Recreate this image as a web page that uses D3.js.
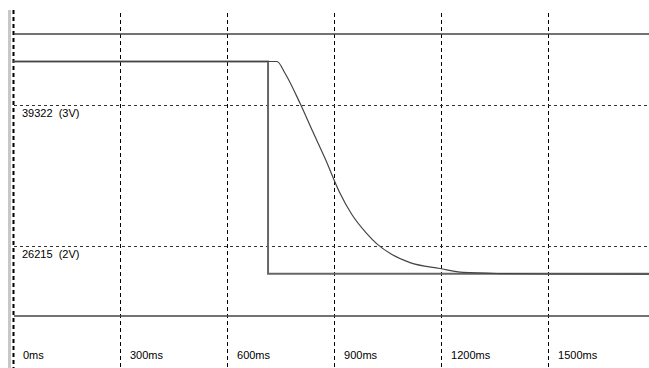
<!DOCTYPE html>
<html>
<head>
<meta charset="utf-8">
<script src="https://cdn.jsdelivr.net/npm/d3@7"></script>
<style>
  body { margin: 0; background: #fff; }
  svg { display: block; }
  text { font-family: "Liberation Sans", Arial, sans-serif; font-size: 11px; fill: #000; white-space: pre; }
</style>
</head>
<body>
<div id="chart"></div>
<script>
// time ticks (ms) and voltage reference lines
const timeTicks = [0, 300, 600, 900, 1200, 1500];
const refLevels = [2, 3];
const refLabels = ["26215  (2V)", "39322  (3V)"];
const limitLevels = [1.5, 3.5];

// step signal (time ms, volts)
const stepTime = [0, 715, 715, 1783];
const stepVolt = [3.305, 3.305, 1.80, 1.80];

// response curve (time ms, volts)
const curveTime = [0, 740, 763, 805, 840, 875, 915, 950, 990, 1021, 1060, 1113, 1197, 1262, 1365, 1500, 1783];
const curveVolt = [3.305, 3.305, 3.22, 3.007, 2.81, 2.617, 2.38, 2.22, 2.09, 2.01, 1.94, 1.879, 1.837, 1.809, 1.801, 1.798, 1.796];

const W = 649, H = 368;
const svg = d3.select("#chart").append("svg")
    .attr("width", W)
    .attr("height", H);

const x = d3.scaleLinear().domain([0, 1783]).range([13, 649]);
const y = d3.scaleLinear().domain([1.5, 3.5]).range([316, 34]);

// left gray edge
svg.append("rect")
    .attr("x", 8).attr("y", 10)
    .attr("width", 3).attr("height", H - 10)
    .attr("fill", "#c8c8c8");

// vertical dashed grid
svg.selectAll(".vgrid")
    .data(timeTicks)
    .enter().append("line")
    .attr("class", "vgrid")
    .attr("x1", d => Math.round(x(d)) + 0.5)
    .attr("x2", d => Math.round(x(d)) + 0.5)
    .attr("y1", d => d === 0 ? 10 : 13)
    .attr("y2", H)
    .attr("stroke", "#000")
    .attr("stroke-width", d => d === 0 ? 2 : 1)
    .attr("stroke-dasharray", "4,3");

// horizontal dashed reference lines
svg.selectAll(".hgrid")
    .data(refLevels)
    .enter().append("line")
    .attr("class", "hgrid")
    .attr("x1", 14).attr("x2", W)
    .attr("y1", d => Math.round(y(d)) + 0.5)
    .attr("y2", d => Math.round(y(d)) + 0.5)
    .attr("stroke", "#333")
    .attr("stroke-dasharray", "3,3");

// solid limit lines
svg.selectAll(".limit")
    .data(limitLevels)
    .enter().append("line")
    .attr("class", "limit")
    .attr("x1", 14).attr("x2", W)
    .attr("y1", d => Math.round(y(d)))
    .attr("y2", d => Math.round(y(d)))
    .attr("stroke", "#444")
    .attr("stroke-width", 1.6);

// reference labels
svg.selectAll(".reflabel")
    .data(refLevels)
    .enter().append("text")
    .attr("class", "reflabel")
    .attr("x", 22)
    .attr("y", d => y(d) + 12.5)
    .text((d, i) => refLabels[i]);

// time labels
svg.selectAll(".tlabel")
    .data(timeTicks)
    .enter().append("text")
    .attr("class", "tlabel")
    .attr("x", d => x(d) + 10)
    .attr("y", 359)
    .text(d => d + "ms");

const line = d3.line()
    .x(d => x(d[0]))
    .y(d => y(d[1]));

// step signal
svg.append("path")
    .datum(stepTime.map((t, i) => [t, stepVolt[i]]))
    .attr("d", line)
    .attr("fill", "none")
    .attr("stroke", "#666")
    .attr("stroke-width", 2);

// response curve
svg.append("path")
    .datum(curveTime.map((t, i) => [t, curveVolt[i]]))
    .attr("d", line.curve(d3.curveMonotoneX))
    .attr("fill", "none")
    .attr("stroke", "#444")
    .attr("stroke-width", 1.2);
</script>
</body>
</html>
